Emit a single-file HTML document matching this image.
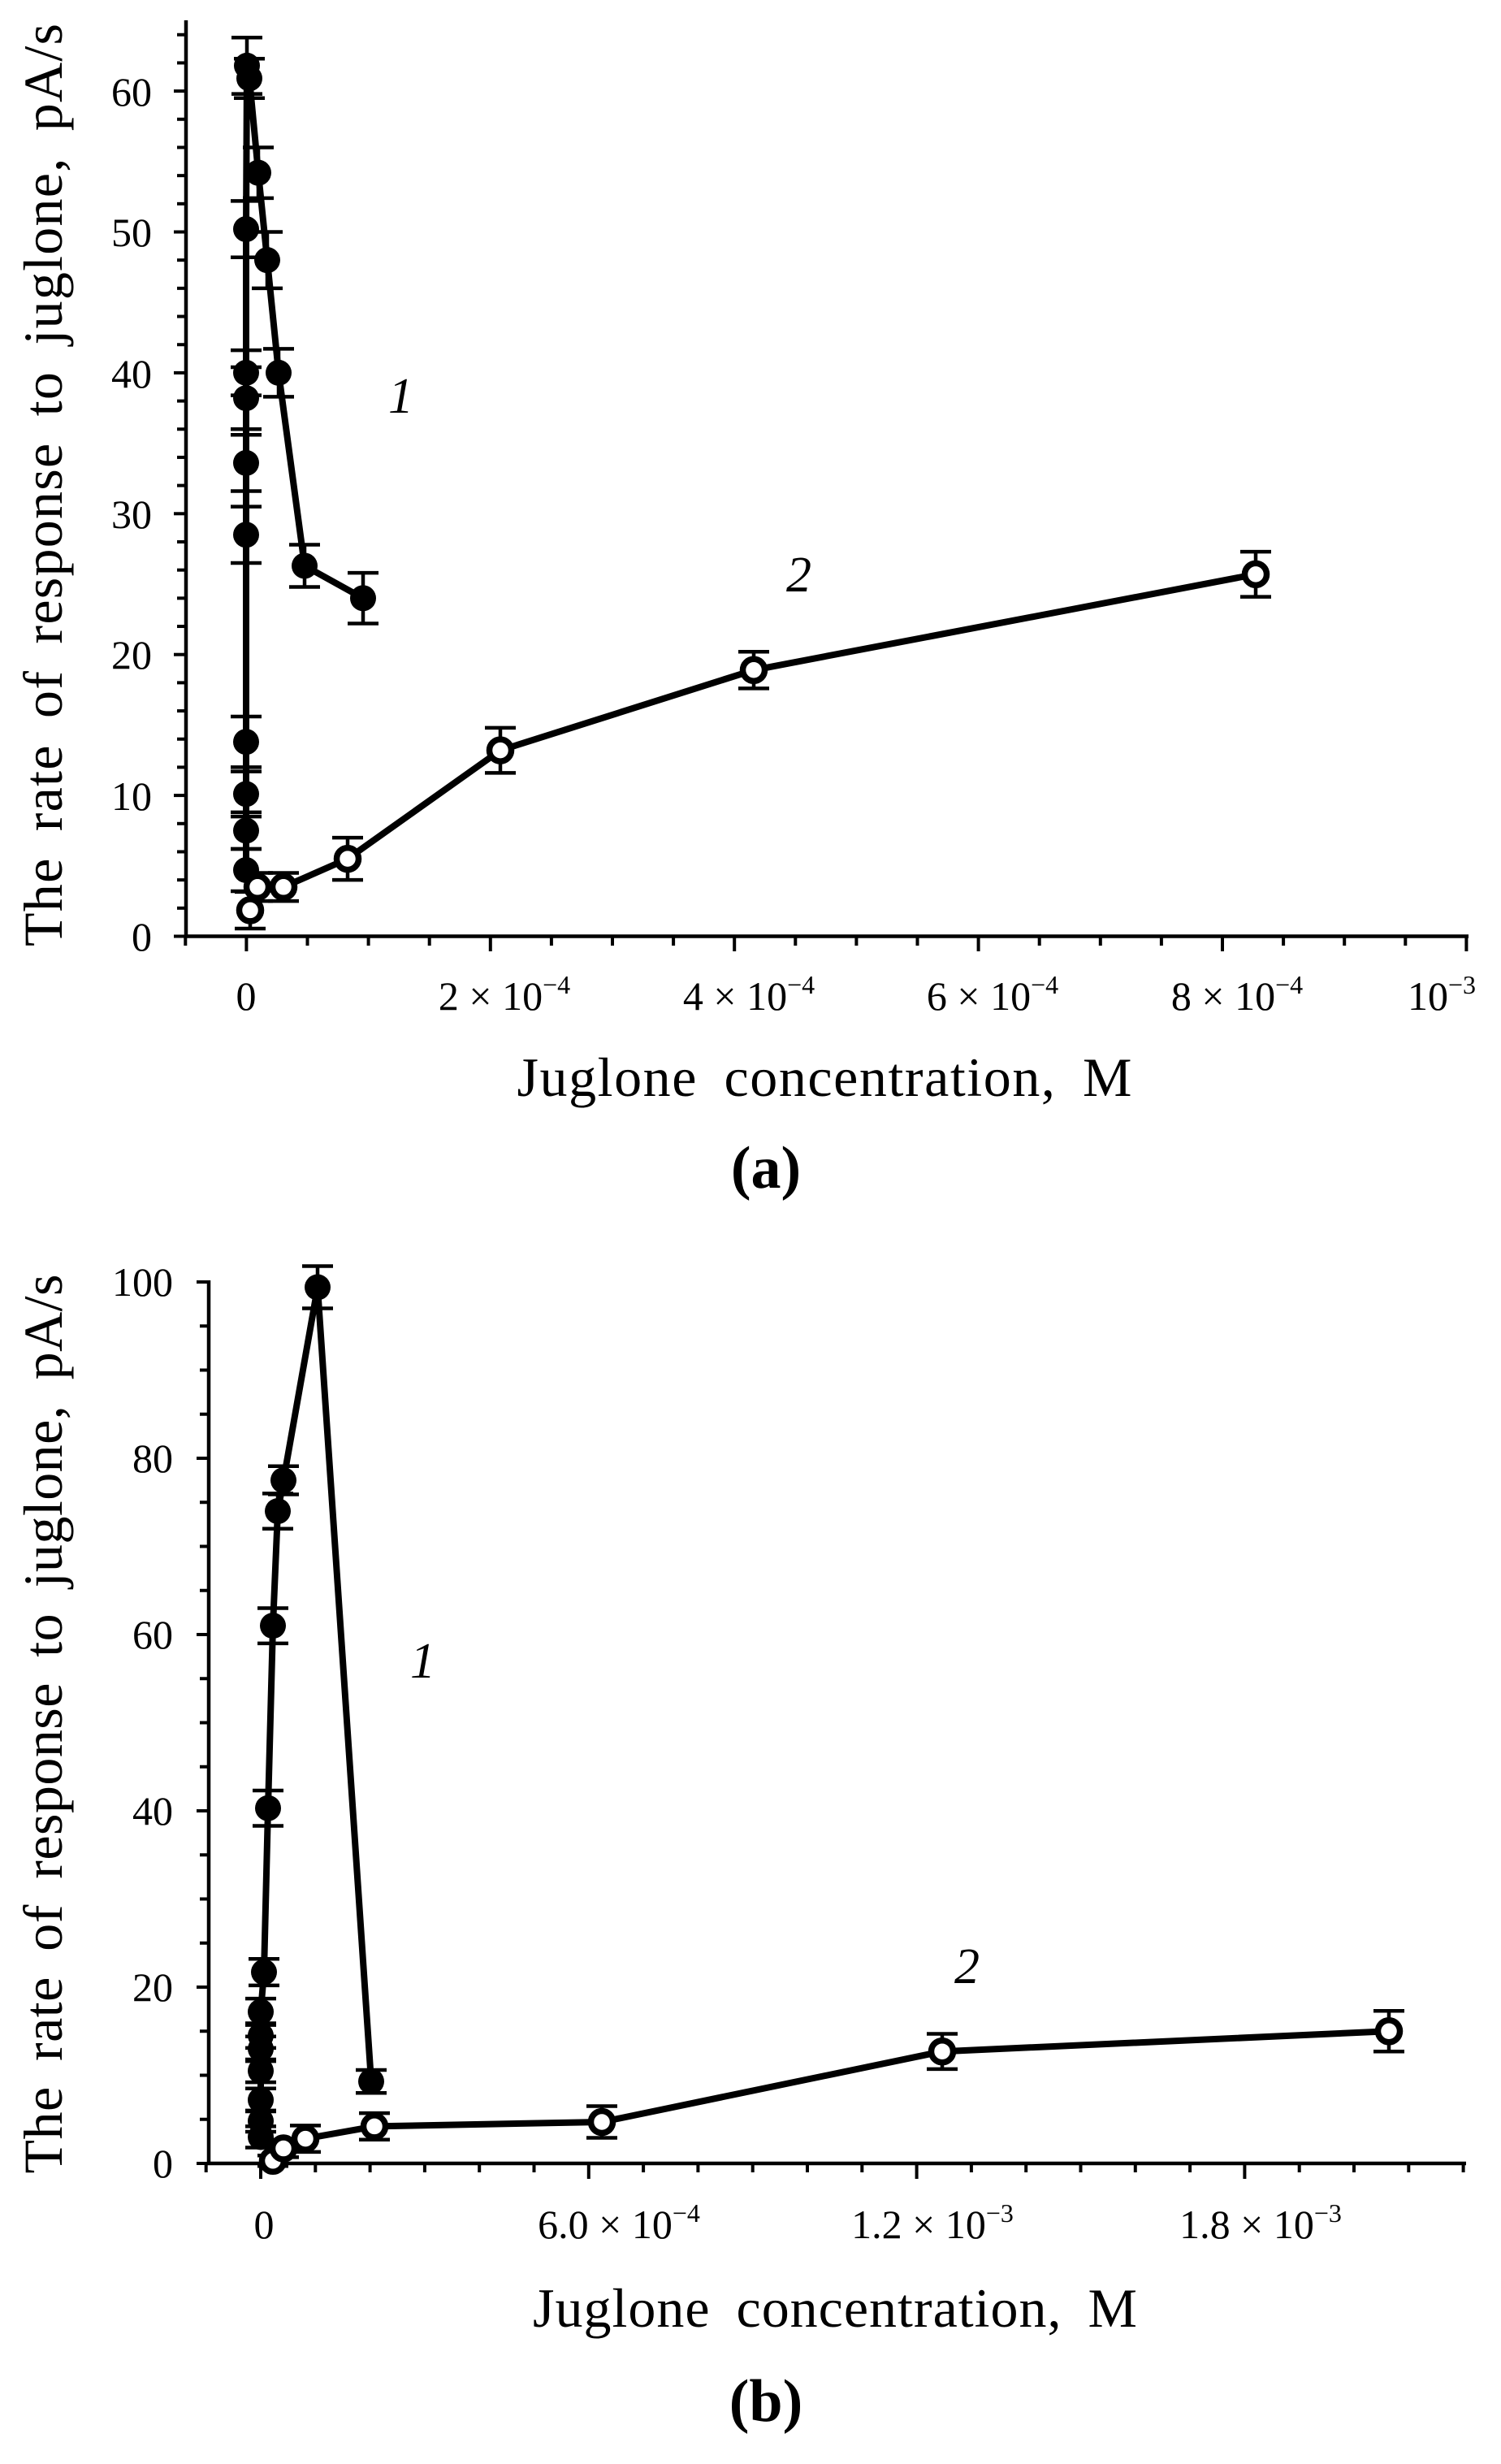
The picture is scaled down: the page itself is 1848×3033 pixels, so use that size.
<!DOCTYPE html>
<html><head><meta charset="utf-8"><style>
html,body{margin:0;padding:0;background:#fff;}
svg{display:block;font-family:"Liberation Serif",serif;}
</style></head><body>
<svg id="s" width="1848" height="3033" viewBox="0 0 1848 3033" xmlns="http://www.w3.org/2000/svg">
<rect width="1848" height="3033" fill="#fff"/>
<g id="g"></g>
<g font-size="50" fill="#000">
<g text-anchor="end">
<text x="187" y="1170">0</text>
<text x="187" y="997">10</text>
<text x="187" y="823">20</text>
<text x="187" y="650">30</text>
<text x="187" y="477">40</text>
<text x="187" y="303">50</text>
<text x="187" y="130">60</text>
</g>
<g text-anchor="middle">
<text x="303" y="1243">0</text>
<text x="621" y="1243">2 × 10<tspan dy="-20" font-size="32">−4</tspan></text>
<text x="922" y="1243">4 × 10<tspan dy="-20" font-size="32">−4</tspan></text>
<text x="1222" y="1243">6 × 10<tspan dy="-20" font-size="32">−4</tspan></text>
<text x="1523" y="1243">8 × 10<tspan dy="-20" font-size="32">−4</tspan></text>
<text x="1775" y="1243">10<tspan dy="-20" font-size="32">−3</tspan></text>
</g>
<text x="478" y="508" font-style="italic" font-size="62">1</text>
<text x="968" y="728" font-style="italic" font-size="62">2</text>
<text transform="translate(76,597) rotate(-90)" text-anchor="middle" font-size="68" word-spacing="14" textLength="1136" lengthAdjust="spacing">The rate of response to juglone, pA/s</text>
<text x="1015" y="1349" text-anchor="middle" font-size="68" word-spacing="14" textLength="757" lengthAdjust="spacing">Juglone concentration, M</text>
<text x="943" y="1462" text-anchor="middle" font-size="74" font-weight="bold">(a)</text>

<g text-anchor="end">
<text x="213" y="2680">0</text>
<text x="213" y="2463">20</text>
<text x="213" y="2246">40</text>
<text x="213" y="2029">60</text>
<text x="213" y="1812">80</text>
<text x="213" y="1595">100</text>
</g>
<g text-anchor="middle">
<text x="325" y="2755">0</text>
<text x="762" y="2755">6.0 × 10<tspan dy="-20" font-size="32">−4</tspan></text>
<text x="1148" y="2755">1.2 × 10<tspan dy="-20" font-size="32">−3</tspan></text>
<text x="1552" y="2755">1.8 × 10<tspan dy="-20" font-size="32">−3</tspan></text>
</g>
<text x="505" y="2065" font-style="italic" font-size="62">1</text>
<text x="1175" y="2441" font-style="italic" font-size="62">2</text>
<text transform="translate(76,2122) rotate(-90)" text-anchor="middle" font-size="68" word-spacing="14" textLength="1107" lengthAdjust="spacing">The rate of response to juglone, pA/s</text>
<text x="1028" y="2864" text-anchor="middle" font-size="68" word-spacing="14" textLength="744" lengthAdjust="spacing">Juglone concentration, M</text>
<text x="943" y="2980" text-anchor="middle" font-size="74" font-weight="bold">(b)</text>
</g>
</svg>
<script>
(function(){
var g=document.getElementById('g'),NS='http://www.w3.org/2000/svg';
function el(t,a){var e=document.createElementNS(NS,t);for(var k in a)e.setAttribute(k,a[k]);g.appendChild(e);return e;}
function line(x1,y1,x2,y2,w){el('line',{x1:x1,y1:y1,x2:x2,y2:y2,stroke:'#000','stroke-width':w});}
var Ya=function(v){return 1152.5-17.34*v;};
line(229,25,229,1154,4.5);line(227,1152.5,1808,1152.5,4.5);
for(var v=0;v<=64;v+=2){var maj=(v%10==0);line(maj?214:218,Ya(v),229,Ya(v),4);}
for(var i=-1;i<=20;i++){var x=303.4+75.1*i;var maj=(i%4==0);line(x,1152,x,maj?1171:1164,4);}
function series(pts,Y,filled){
 var d=pts.map(function(p,i){return (i?'L':'M')+p[0]+' '+Y(p[1]);}).join(' ');
 el('path',{d:d,fill:'none',stroke:'#000','stroke-width':8,'stroke-linejoin':'round'});
 pts.forEach(function(p){var x=p[0],y1=Y(p[1]+p[2]),y2=Y(p[1]-p[2]);
  line(x,y1,x,y2,4.5);line(x-19,y1,x+19,y1,4.5);line(x-19,y2,x+19,y2,4.5);});
 pts.forEach(function(p){
  if(filled)el('circle',{cx:p[0],cy:Y(p[1]),r:16,fill:'#000'});
  else el('circle',{cx:p[0],cy:Y(p[1]),r:13.5,fill:'#fff',stroke:'#000','stroke-width':7.5});});
}
series([[303,4.7,1.5],[303,7.5,1.3],[303,10.1,1.6],[303,13.8,1.8],[303,28.5,2],[303,33.6,2],[303,38.2,2.2],[303,40,1.6],[303,50.2,2],[304,61.8,2],[307,60.9,1.4],[318,54.2,1.8],[329,48,2],[343,40,1.7],[375,26.3,1.5],[447,24,1.8]],Ya,true);
series([[308,1.85,1.3],[317,3.5,1],[349,3.5,1],[428,5.5,1.5],[616,13.2,1.6],[928,18.9,1.3],[1546,25.7,1.6]],Ya,false);
var Yb=function(v){return 2663-10.85*v;};
line(257,1576,257,2665,4.5);line(255,2663,1805,2663,4.5);
for(var v=0;v<=100;v+=5){var maj=(v%20==0);line(maj?242:246,Yb(v),257,Yb(v),4);}
for(var i=-1;i<=22;i++){var x=321+67.3*i;var maj=(i%6==0);line(x,2663,x,maj?2682:2674,4);}
series([[321,3,1.2],[321,4.8,1.2],[321,7.2,1.3],[321,10.5,1.3],[321,13,1.4],[321,14.5,1.4],[321,17.2,1.5],[325,21.7,1.5],[330,40.3,2],[336,61,2],[342,74,2],[349,77.5,1.6],[391,99.4,2.4],[457,9.3,1.3]],Yb,true);
series([[336,0.3,0.6],[349,1.7,1],[376,2.8,1.5],[461,4.2,1.5],[741,4.7,1.8],[1160,12.7,2],[1710,15,2.3]],Yb,false);
})();
</script>
</body></html>
